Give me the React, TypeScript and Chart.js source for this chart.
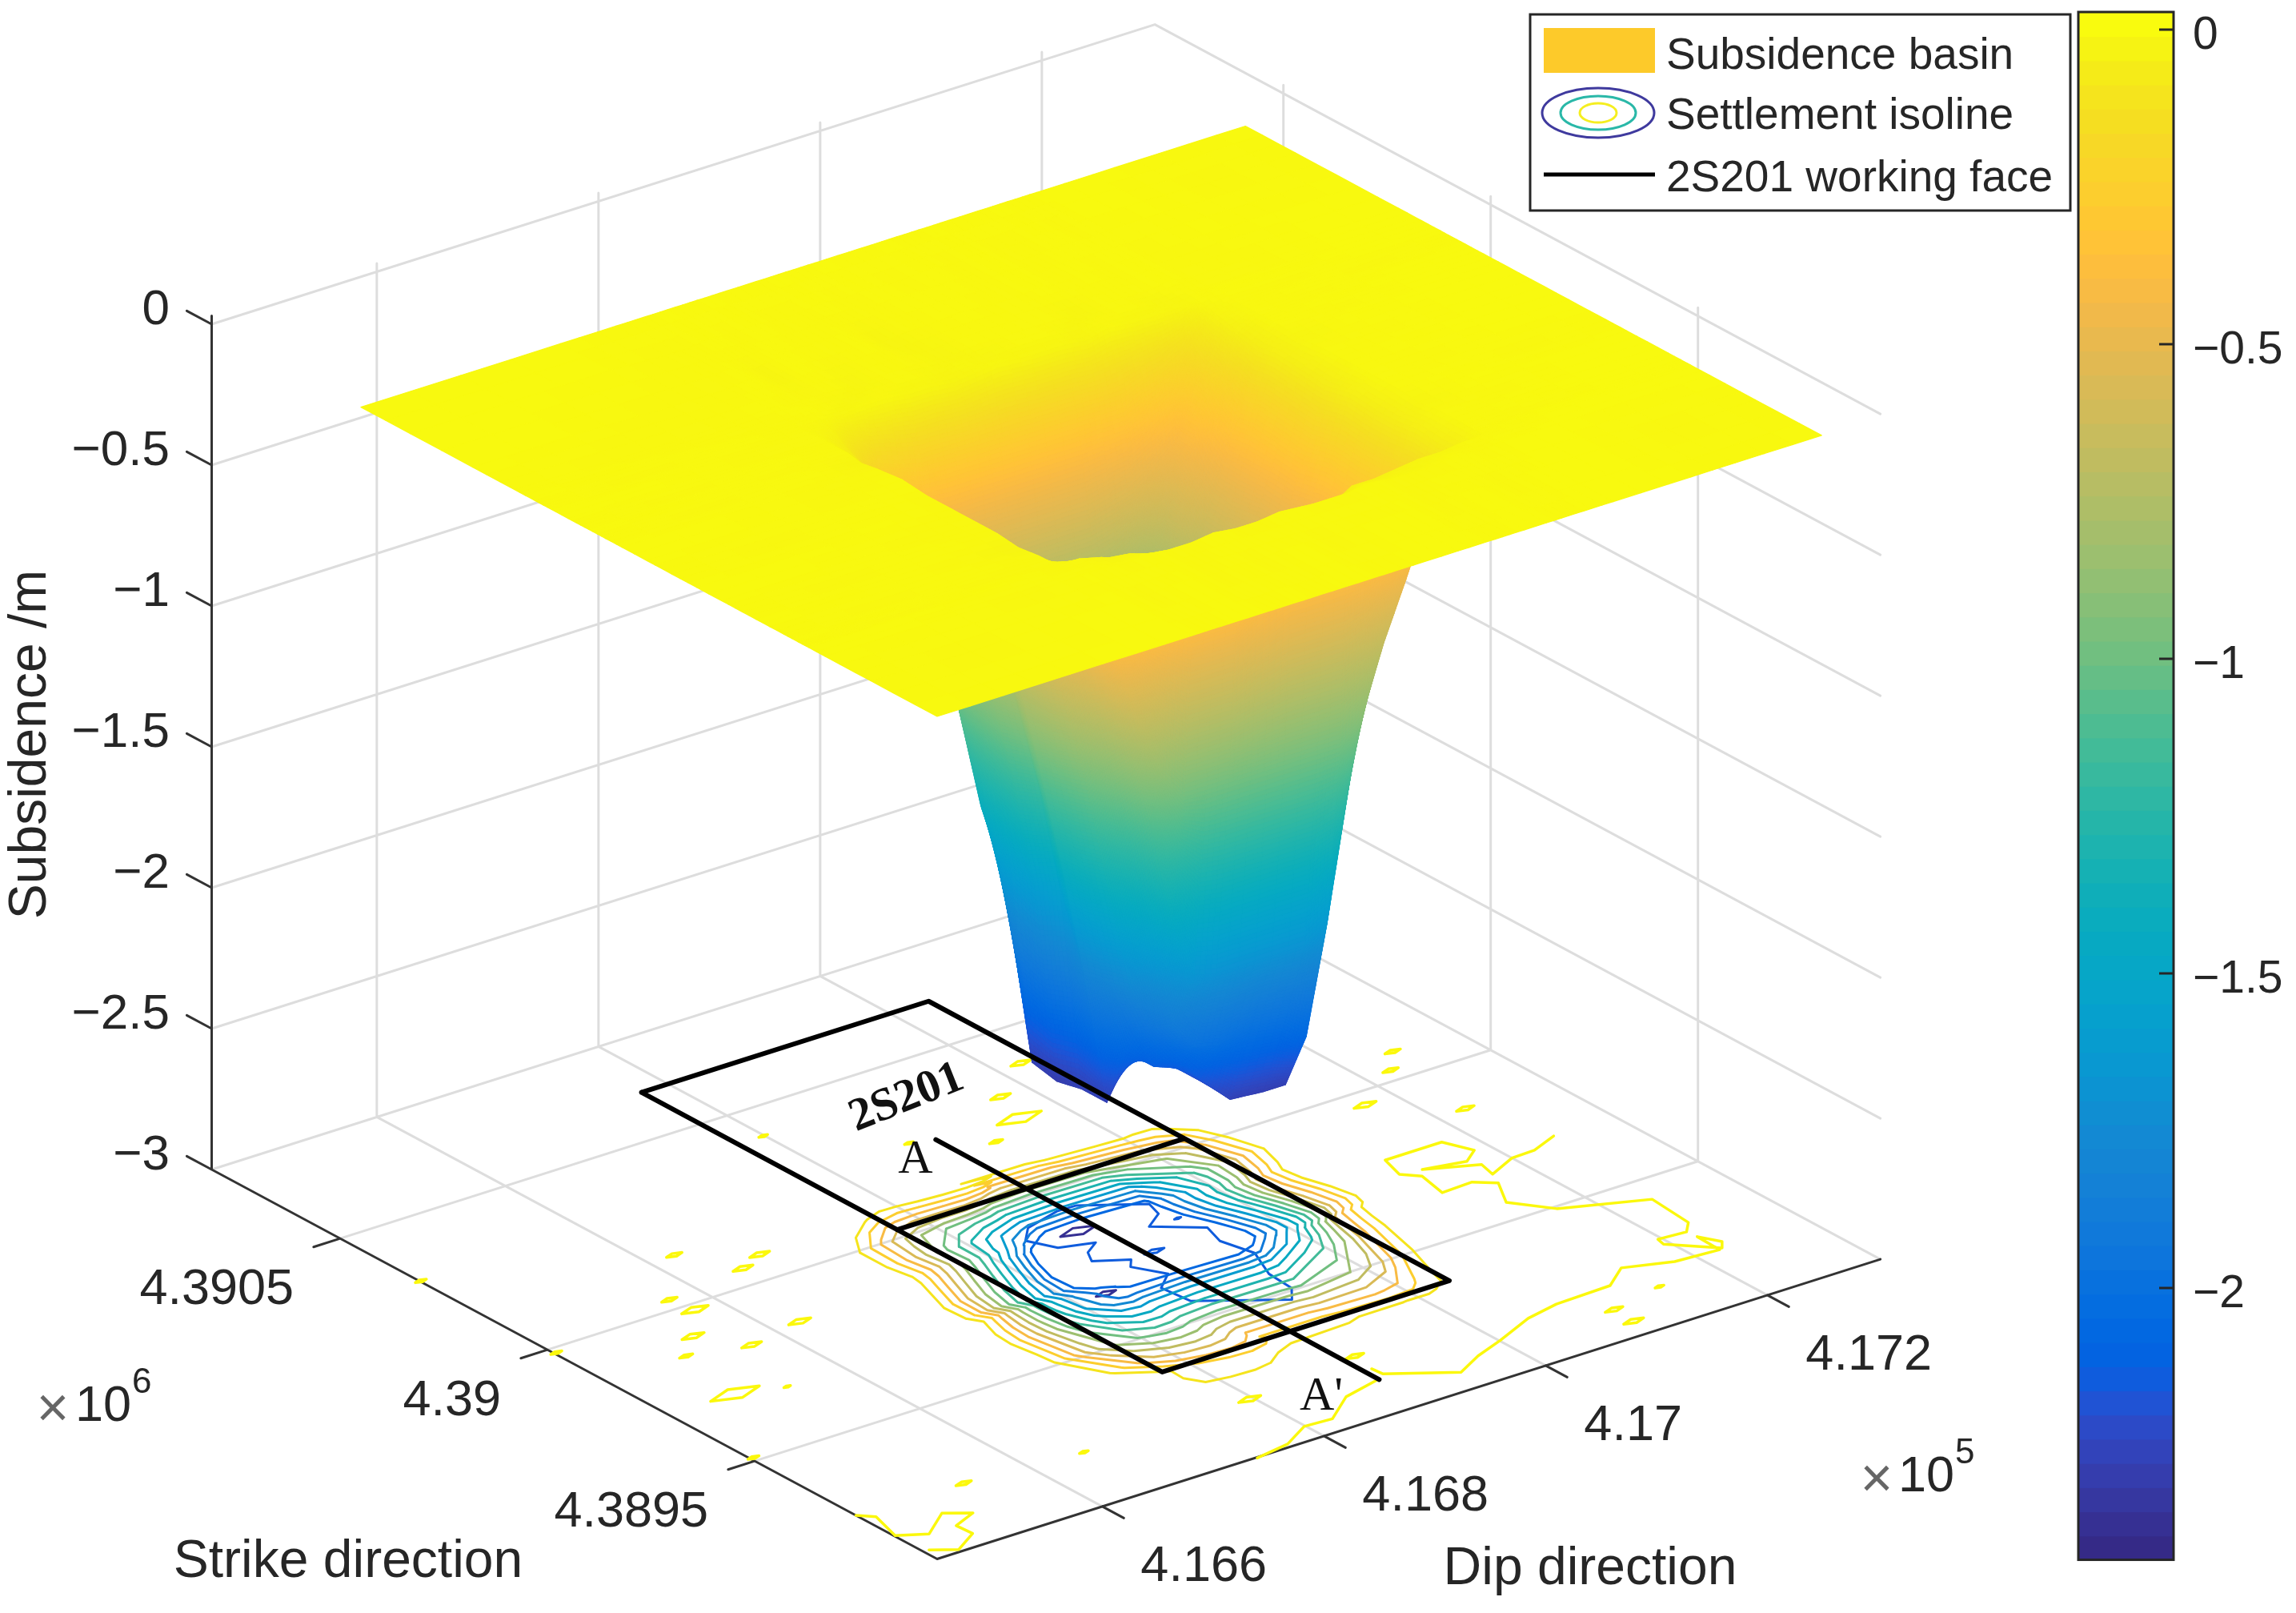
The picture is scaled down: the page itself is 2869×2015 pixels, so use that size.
import { useEffect, useRef } from 'react';
import Chart from 'chart.js/auto';

// grid of the measured surface, metres
const dipAxis = [416451, 416541, 416631, 416681, 416701, 416721, 416741, 416761, 416781, 416801, 416821, 416841, 416861, 416891, 416921, 416941, 416961, 416981, 417001, 417021, 417041, 417061, 417111, 417171, 417249];
const strikeAxis = [4389060, 4389220, 4389330, 4389370, 4389385, 4389400, 4389430, 4389480, 4389530, 4389580, 4389640, 4389700, 4389760, 4389820, 4389860, 4389890, 4389920, 4389950, 4389980, 4390010, 4390040, 4390080, 4390180, 4390330, 4390450];
// the isolines on the floor sit a little apart from the surface
const contourDipAxis = [416451, 416541, 416631, 416721, 416730, 416740, 416752, 416766, 416783, 416804, 416825, 416841, 416851, 416891, 416948, 416964, 417006, 417030, 417040, 417053, 417065, 417071, 417111, 417171, 417249];
const contourStrikeAxis = [4389060, 4389220, 4389300, 4389374, 4389424, 4389505, 4389599, 4389639, 4389673, 4389686, 4389710, 4389760, 4389810, 4389850, 4389875, 4389925, 4389990, 4390035, 4390070, 4390093, 4390100, 4390110, 4390180, 4390330, 4390450];
const isolineWestShift = [0, 0, 0, 25, 6, -6, -8, -5, 0, 2, -5, -7, 0, 6, 8, 3, 1, 12, 28, 36, 36, 0, 0, 0, 0];
const isolineEastShift = [0, 0, 0, -20, -28, -18, -8, -5, -2, 4, 7, 2, -5, -7, -2, 5, -2, -10, -24, -32, -32, 0, 0, 0, 0];
const isolineStrikeShift = [0, 0, 0, 0, 4, 6, 8, 4, -2, -6, -8, -4, 3, 8, 6, 0, -6, -8, -4, 3, 0, 0, 0, 0, 0];

const subsidence = [
  [-.01,-.01,-.01,-.01,-.01,-.01,-.01,-.01,-.01,-.01,-.01,-.01,-.01,-.01,-.01,-.01,-.01,-.01,-.01,-.01,-.01,-.01,-.01,-.01,-.01],
  [-.01,-.02,-.01,-.01,-.02,-.01,-.01,-.02,-.01,-.02,-.01,-.01,-.02,-.01,-.01,-.01,-.02,-.01,-.01,-.02,-.01,-.01,-.01,-.02,-.01],
  [-.01,-.01,-.02,-.01,-.01,-.02,-.01,-.02,-.02,-.01,-.02,-.02,-.01,-.02,-.02,-.01,-.02,-.02,-.02,-.01,-.02,-.01,-.01,-.01,-.01],
  [-.01,-.01,-.01,-.02,-.02,-.03,-.04,-.08,-.25,-.25,-.25,-.25,-.12,-.12,-.1,-.05,-.05,-.04,-.03,-.03,-.02,-.02,-.01,-.01,-.01],
  [-.01,-.02,-.01,-.02,-.02,-.04,-.25,-.4,-.45,-.5,-.5,-.5,-.45,-.4,-.4,-.4,-.4,-.38,-.32,-.22,-.06,-.02,-.01,-.01,-.01],
  [-.01,-.01,-.02,-.02,-.04,-.27,-.46,-.7,-.9,-1,-1,-1,-1,-1,-1,-1,-.92,-.68,-.48,-.27,-.07,-.02,-.02,-.01,-.01],
  [-.01,-.02,-.01,-.02,-.12,-.3,-.52,-.78,-1.08,-1.47,-1.68,-1.7,-1.7,-1.7,-1.7,-1.65,-1.18,-.74,-.54,-.3,-.07,-.02,-.01,-.01,-.01],
  [-.01,-.01,-.02,-.03,-.13,-.32,-.56,-.86,-1.2,-1.6,-1.9,-2,-2.02,-2,-2.02,-2.09,-1.28,-.76,-.54,-.3,-.06,-.02,-.02,-.01,-.01],
  [-.01,-.02,-.01,-.02,-.13,-.34,-.68,-1,-1.4,-1.78,-1.95,-2.05,-2.17,-2.29,-2.3,-2.3,-1.45,-.76,-.55,-.31,-.07,-.03,-.01,-.01,-.01],
  [-.01,-.01,-.02,-.02,-.13,-.36,-.7,-1.02,-1.42,-1.8,-2,-2.15,-2.18,-2.28,-2.3,-2.25,-1.38,-.75,-.55,-.31,-.07,-.02,-.01,-.02,-.01],
  [-.01,-.01,-.01,-.02,-.13,-.36,-.7,-1.04,-1.42,-1.82,-2.3,-2.15,-2.18,-2.25,-2.3,-2.2,-1.3,-.76,-.54,-.3,-.06,-.02,-.02,-.01,-.01],
  [-.01,-.02,-.01,-.02,-.12,-.31,-.55,-.83,-1.15,-1.55,-2.3,-2.2,-2.18,-2.2,-2.28,-2.15,-1.25,-.75,-.55,-.32,-.08,-.02,-.01,-.01,-.01],
  [-.01,-.01,-.02,-.01,-.11,-.31,-.56,-.84,-1.18,-1.6,-2.32,-2.25,-2.2,-2.22,-2.25,-2.1,-1.2,-.76,-.54,-.31,-.07,-.02,-.02,-.01,-.01],
  [-.01,-.01,-.02,-.02,-.12,-.3,-.54,-.82,-1.14,-1.55,-2.3,-2.3,-2.28,-2.25,-2.22,-2.05,-1.22,-.74,-.55,-.3,-.06,-.03,-.01,-.01,-.01],
  [-.01,-.02,-.01,-.03,-.12,-.31,-.53,-.8,-1.1,-1.5,-1.95,-2.2,-2.22,-2.2,-2.2,-2,-1.18,-.74,-.54,-.31,-.07,-.02,-.02,-.01,-.01],
  [-.01,-.01,-.02,-.02,-.11,-.29,-.5,-.76,-1.05,-1.42,-1.68,-1.7,-1.7,-1.7,-1.7,-1.65,-1.05,-.65,-.5,-.28,-.06,-.02,-.01,-.01,-.01],
  [-.01,-.02,-.01,-.02,-.09,-.24,-.42,-.66,-.9,-1.02,-1.05,-1.05,-1.05,-1.05,-1.05,-1.02,-.9,-.65,-.42,-.22,-.05,-.02,-.02,-.01,-.01],
  [-.01,-.01,-.02,-.02,-.07,-.18,-.34,-.5,-.58,-.6,-.6,-.6,-.6,-.6,-.6,-.58,-.56,-.5,-.42,-.2,-.04,-.02,-.01,-.02,-.01],
  [-.01,-.01,-.02,-.02,-.04,-.12,-.2,-.23,-.25,-.25,-.25,-.25,-.25,-.25,-.25,-.25,-.25,-.22,-.2,-.15,-.03,-.02,-.02,-.01,-.01],
  [-.01,-.02,-.01,-.02,-.02,-.03,-.02,-.02,-.03,-.03,-.04,-.03,-.02,-.03,-.03,-.04,-.02,-.03,-.03,-.03,-.02,-.01,-.01,-.01,-.01],
  [-.01,-.01,-.02,-.02,-.01,-.02,-.03,-.02,-.02,-.02,-.03,-.02,-.03,-.02,-.02,-.03,-.02,-.02,-.02,-.03,-.02,-.02,-.02,-.01,-.01],
  [-.01,-.02,-.02,-.01,-.02,-.02,-.02,-.03,-.02,-.02,-.02,-.03,-.02,-.02,-.02,-.02,-.03,-.02,-.02,-.02,-.01,-.02,-.02,-.01,-.01],
  [-.01,-.01,-.02,-.02,-.01,-.03,-.01,-.02,-.02,-.01,-.03,-.02,-.02,-.01,-.02,-.02,-.01,-.02,-.01,-.02,-.01,-.02,-.01,-.01,-.01],
  [-.01,-.01,-.01,-.02,-.02,-.01,-.02,-.01,-.02,-.02,-.01,-.02,-.01,-.02,-.01,-.02,-.01,-.02,-.02,-.01,-.02,-.01,-.01,-.02,-.01],
  [-.01,-.01,-.01,-.01,-.01,-.01,-.01,-.01,-.01,-.01,-.01,-.01,-.01,-.01,-.01,-.01,-.01,-.01,-.01,-.01,-.01,-.01,-.01,-.01,-.01],
];

const isolineLevels = [-.1, -.25, -.4, -.55, -.7, -.85, -1, -1.15, -1.3, -1.45, -1.6, -1.75, -1.9, -2.05];

// the wide inner isoline at about -2.2, [dip, strike]
const innerIsoline = [[416903,4389933],[416946,4389872],[416941,4389836],[416922,4389808],[416954,4389753],[416947,4389704],[416954,4389639],[416940,4389567],[416938,4389507],[416926,4389474],[416867,4389561],[416864,4389624],[416883,4389658],[416869,4389711],[416877,4389731],[416853,4389762],[416860,4389790],[416875,4389811],[416848,4389830],[416837,4389879],[416852,4389913],[416886,4389934],[416903,4389933]];
// deepest closed isolines: dip, strike, half length
const deepLoops = [[416877,4389859,16],[416827,4389658,9]];
const innerLoops = [[416947,4389806,3],[416899,4389734,9]];
// the long shallow isolines
const shallowLineEast = [[417247,4389701],[417221,4389678],[417200,4389676],[417172,4389648],[417176,4389685],[417137,4389724],[417171,4389707],[417187,4389732],[417177,4389784],[417126,4389784],[417119,4389731],[417130,4389706],[417124,4389641],[417152,4389644],[417166,4389618],[417150,4389556],[417172,4389493],[417236,4389434],[417232,4389336],[417221,4389311],[417197,4389316],[417195,4389297],[417224,4389234],[417231,4389252],[417222,4389288],[417221,4389231],[417183,4389238],[417146,4389268],[417121,4389228],[417071,4389224],[417040,4389209],[417001,4389172],[416972,4389148],[416945,4389117],[416899,4389183],[416898,4389207]];
const shallowLineSouth = [[416890,4389171],[416854,4389151],[416823,4389101],[416799,4389105],[416771,4389070],[416739,4389058]];
const shallowLineCorner = [[416451,4389256],[416461,4389234],[416452,4389164],[416473,4389138],[416502,4389185],[416520,4389158],[416497,4389137],[416498,4389100],[416473,4389067],[416456,4389093]];
// small closed isolines: dip, strike, half length
const shallowLoops = [[417022,4390385,9],[416975,4390308,9],[416963,4390231,20],[416925,4390185,6],[416874,4390259,4],[416799,4390410,4],[417245,4390084,7],[417224,4390033,7],[417173,4389958,10],[417226,4389858,8],[416797,4389231,10],[416902,4389258,8],[416624,4389854,10],[416623,4390154,7],[416672,4390079,9],[416648,4390055,9],[416573,4390032,7],[416577,4389981,12],[416548,4389908,10],[416572,4389831,9],[416523,4389858,6],[416511,4389708,22],[416548,4389681,3],[416452,4390308,5],[416453,4389984,5],[416454,4389511,5],[416546,4389250,7],[416647,4389230,4],[417098,4389157,8],[417097,4389107,9],[417148,4389181,4]];

const workingFaceDip = [416776, 417035];
const workingFaceStrike = [4389386, 4390642];
const stopLineStrike = 4390025;
const sectionAA = [[416893, 4390245], [416891, 4389170]];

const dipTicks = [416600, 416800, 417000, 417200];
const dipTickLabels = ['4.166', '4.168', '4.17', '4.172'];
const strikeTicks = [4390500, 4390000, 4389500];
const strikeTickLabels = ['4.3905', '4.39', '4.3895'];
const zTicks = [0, -0.5, -1, -1.5, -2, -2.5, -3];
const zTickLabels = ['0', '\u22120.5', '\u22121', '\u22121.5', '\u22122', '\u22122.5', '\u22123'];
const colorbarTicks = [0, -0.5, -1, -1.5, -2];
const colorbarTickLabels = ['0', '\u22120.5', '\u22121', '\u22121.5', '\u22122'];
const colorLimits = [-2.432, 0.028];

const dipLimits = [416451, 417302];
const strikeLimits = [4389060, 4390810];
const zTop = 0.03;

const parula = [[.2081,.1663,.5292],[.2116,.1898,.5777],[.2123,.2138,.627],[.2081,.2386,.6771],[.1959,.2645,.7279],[.1707,.2919,.7792],[.1253,.3242,.8303],[.0591,.3598,.8683],[.0117,.3875,.882],[.006,.4086,.8828],[.0165,.4266,.8786],[.0329,.443,.872],[.0498,.4586,.8641],[.0629,.4737,.8554],[.0723,.4887,.8467],[.0779,.504,.8384],[.0793,.52,.8312],[.0749,.5375,.8263],[.0641,.557,.824],[.0488,.5772,.8228],[.0343,.5966,.8199],[.0265,.6137,.8135],[.0239,.6287,.8038],[.0231,.6418,.7913],[.0228,.6535,.7768],[.0267,.6642,.7607],[.0384,.6743,.7436],[.059,.6838,.7254],[.0843,.6928,.7062],[.1133,.7015,.6859],[.1453,.7098,.6646],[.1801,.7177,.6424],[.2178,.725,.6193],[.2586,.7317,.5954],[.3022,.7376,.5712],[.3482,.7424,.5473],[.3953,.7459,.5244],[.442,.7481,.5033],[.4871,.7491,.484],[.53,.7491,.4661],[.5709,.7485,.4494],[.6099,.7473,.4337],[.6473,.7456,.4188],[.6834,.7435,.4044],[.7184,.7411,.3905],[.7525,.7384,.3768],[.7858,.7356,.3633],[.8185,.7327,.3498],[.8507,.7299,.336],[.8824,.7274,.3217],[.9139,.7258,.3063],[.945,.7261,.2886],[.9739,.7314,.2666],[.9938,.7455,.2403],[.999,.7653,.2164],[.9955,.7861,.1967],[.988,.8066,.1794],[.9789,.8271,.1633],[.9697,.8481,.1475],[.9626,.8705,.1309],[.9589,.8949,.1132],[.9598,.9218,.0948],[.9661,.9514,.0755],[.9763,.9831,.0538]];
const toRgb = (c: number[]) => `rgb(${Math.round(c[0] * 255)},${Math.round(c[1] * 255)},${Math.round(c[2] * 255)})`;
const bandColors = parula.map(toRgb);

const W = 2869;
const H = 2015;
const INK = '#262626';
const GRID = '#dddddd';
const SANS = '"Liberation Sans", Arial, sans-serif';
const SERIF = '"Liberation Serif", serif';

// fixed MATLAB view, orthographic
const project = (dip: number, strike: number, z: number) => ({
  x: 1171 + (dip - 416451) * 1.385 - (strike - 4389060) * 0.518,
  y: 1947.5 - (dip - 416451) * 0.44 - (strike - 4389060) * 0.278 - (z + 3) * 352,
});

const colorOf = (z: number) => {
  const t = (z - colorLimits[0]) / (colorLimits[1] - colorLimits[0]);
  return bandColors[Math.max(0, Math.min(63, Math.floor(t * 64)))];
};

// the surface has interpolated shading, the colorbar has the 64 bands
const shadeOf = (z: number) => {
  const t = Math.max(0, Math.min(1, (z - colorLimits[0]) / -colorLimits[0])) * 63;
  const i = Math.min(62, Math.floor(t));
  const f = t - i;
  return toRgb(parula[i].map((v, k) => v + (parula[i + 1][k] - v) * f));
};

const polyline = (pts: number[][], z: number) => pts.map((p) => project(p[0], p[1], z));
const GAP = { x: NaN, y: NaN };

const loopData = (loops: number[][], ratio: number) => {
  const out: any[] = [];
  loops.forEach(([d, s, h]) => {
    const w = h * ratio;
    out.push(...polyline([[d - h, s], [d, s + w], [d + h, s], [d, s - w], [d - h, s]], -3), GAP);
  });
  return out;
};

// contouring works on a lightly smoothed copy, the grid is too coarse for clean lines otherwise
const smoothedSubsidence = subsidence.map((row, r) => row.map((z, c) => {
  if (r === 0 || c === 0 || r === subsidence.length - 1 || c === row.length - 1) return z;
  return (2 * z + subsidence[r - 1][c] + subsidence[r + 1][c] + row[c - 1] + row[c + 1]) / 6;
}));

// marching squares over the surface grid, placed on the floor
const isolineSegments = (level: number) => {
  const out: any[] = [];
  const grid = smoothedSubsidence;
  const cut = (p: number[], q: number[], za: number, zb: number) => {
    const t = (level - za) / (zb - za);
    return project(p[0] + (q[0] - p[0]) * t, p[1] + (q[1] - p[1]) * t, -3);
  };
  const node = (r: number, c: number) => [
    contourDipAxis[c] + (c <= 12 ? isolineWestShift[r] : isolineEastShift[r]),
    contourStrikeAxis[r] + isolineStrikeShift[c],
  ];
  for (let r = 0; r < strikeAxis.length - 1; r++) {
    for (let c = 0; c < dipAxis.length - 1; c++) {
      const a = grid[r][c], b = grid[r][c + 1], d = grid[r + 1][c], e = grid[r + 1][c + 1];
      const na = node(r, c), nb = node(r, c + 1), nd = node(r + 1, c), ne = node(r + 1, c + 1);
      const hits: any[] = [];
      if (a > level !== b > level) hits.push(cut(na, nb, a, b));
      if (b > level !== e > level) hits.push(cut(nb, ne, b, e));
      if (d > level !== e > level) hits.push(cut(nd, ne, d, e));
      if (a > level !== d > level) hits.push(cut(na, nd, a, d));
      for (let i = 0; i + 1 < hits.length; i += 2) out.push(hits[i], hits[i + 1], GAP);
    }
  }
  return out;
};

const shallowData = () => {
  const out: any[] = [];
  [shallowLineEast, shallowLineSouth, shallowLineCorner].forEach((l) => out.push(...polyline(l, -3), GAP));
  out.push(...loopData(shallowLoops, 0.8));
  return out;
};

const gridData = () => {
  const out: any[] = [];
  const [d0, d1] = dipLimits;
  const [s0, s1] = strikeLimits;
  zTicks.forEach((z) => out.push(project(d0, s1, z), project(d1, s1, z), project(d1, s0, z), GAP));
  dipTicks.forEach((d) => out.push(project(d, s0, -3), project(d, s1, -3), project(d, s1, zTop), GAP));
  strikeTicks.forEach((s) => out.push(project(d0, s, -3), project(d1, s, -3), project(d1, s, zTop), GAP));
  return out;
};

const axisData = () => {
  const out: any[] = [];
  const [d0, d1] = dipLimits;
  const [s0, s1] = strikeLimits;
  out.push(project(d1, s0, -3), project(d0, s0, -3), project(d0, s1, -3), project(d0, s1, zTop), GAP);
  zTicks.forEach((z) => out.push(project(d0, s1, z), project(d0, s1 + 60, z), GAP));
  dipTicks.forEach((d) => out.push(project(d, s0, -3), project(d, s0 - 52, -3), GAP));
  strikeTicks.forEach((s) => out.push(project(d0, s, -3), project(d0 - 24, s, -3), GAP));
  return out;
};

const faceData = () => {
  const [d0, d1] = workingFaceDip;
  const [s0, s1] = workingFaceStrike;
  return [
    ...polyline([[d0, s1], [d1, s1], [d1, s0], [d0, s0], [d0, s1]], -3), GAP,
    ...polyline([[d0, stopLineStrike], [d1, stopLineStrike]], -3), GAP,
    ...polyline(sectionAA, -3),
  ];
};

const surfaceData = () => {
  const out: any[] = [];
  strikeAxis.forEach((s, r) => dipAxis.forEach((d, c) => out.push({ ...project(d, s, subsidence[r][c]), z: subsidence[r][c] })));
  return out;
};

const lineSet = (label: string, data: any[], color: string, width: number, order: number) => ({
  label, data, order, showLine: true, borderColor: color, borderWidth: width, pointRadius: 0, borderJoinStyle: 'round', borderCapStyle: 'round',
});

const drawSurface = (chart: any, index: number) => {
  const pts = chart.getDatasetMeta(index).data;
  const zs = chart.data.datasets[index].data;
  const cols = dipAxis.length;
  const ctx = chart.ctx;
  ctx.save();
  ctx.lineWidth = 1.2;
  ctx.lineJoin = 'round';
  for (let r = strikeAxis.length - 2; r >= 0; r--) {
    for (let c = cols - 2; c >= 0; c--) {
      const k = [r * cols + c, r * cols + c + 1, (r + 1) * cols + c + 1, (r + 1) * cols + c];
      const corner = k.map((i) => ({ x: pts[i].x, y: pts[i].y, z: zs[i].z }));
      const at = (u: number, v: number) => {
        const w = [(1 - u) * (1 - v), u * (1 - v), u * v, (1 - u) * v];
        return {
          x: w.reduce((t, q, i) => t + q * corner[i].x, 0),
          y: w.reduce((t, q, i) => t + q * corner[i].y, 0),
          z: w.reduce((t, q, i) => t + q * corner[i].z, 0),
        };
      };
      const du = Math.max(Math.abs(corner[1].z - corner[0].z), Math.abs(corner[2].z - corner[3].z));
      const dv = Math.max(Math.abs(corner[3].z - corner[0].z), Math.abs(corner[2].z - corner[1].z));
      const nu = Math.min(40, Math.ceil(du * 60) + 2);
      const nv = Math.min(40, Math.ceil(dv * 60) + 2);
      for (let j = nv - 1; j >= 0; j--) {
        for (let i = nu - 1; i >= 0; i--) {
          const a = at(i / nu, j / nv), b = at((i + 1) / nu, j / nv);
          const e = at((i + 1) / nu, (j + 1) / nv), f = at(i / nu, (j + 1) / nv);
          const color = shadeOf((a.z + b.z + e.z + f.z) / 4);
          ctx.fillStyle = color;
          ctx.strokeStyle = color;
          ctx.beginPath();
          ctx.moveTo(a.x, a.y);
          ctx.lineTo(b.x, b.y);
          ctx.lineTo(e.x, e.y);
          ctx.lineTo(f.x, f.y);
          ctx.closePath();
          ctx.fill();
          ctx.stroke();
        }
      }
    }
  }
  ctx.restore();
};

const text = (ctx: any, s: string, x: number, y: number, size: number, align = 'left', family = SANS, color = INK, weight = '') => {
  ctx.font = `${weight} ${size}px ${family}`;
  ctx.textAlign = align;
  ctx.textBaseline = 'middle';
  ctx.fillStyle = color;
  ctx.fillText(s, x, y);
};

const decorations = {
  id: 'decorations',
  beforeDatasetDraw(chart: any, args: any) {
    if (chart.data.datasets[args.index].label === 'Subsidence basin') drawSurface(chart, args.index);
  },
  afterDatasetsDraw(chart: any) {
    const ctx = chart.ctx;
    const sx = chart.scales.x;
    const cb = chart.scales.colorbar;
    ctx.save();

    // axis text
    zTicks.forEach((z, i) => text(ctx, zTickLabels[i], 212, project(dipLimits[0], strikeLimits[1], z).y - 17, 62, 'right'));
    strikeTicks.forEach((s, i) => {
      const p = project(dipLimits[0], s, -3);
      text(ctx, strikeTickLabels[i], p.x - 58, p.y + 64, 63, 'right');
    });
    dipTicks.forEach((d, i) => {
      const p = project(d, strikeLimits[0], -3);
      text(ctx, dipTickLabels[i], p.x + 48, p.y + 76, 63);
    });
    text(ctx, '\u00d7', 66, 1763, 70, 'center', SANS, '#666');
    text(ctx, '10', 94, 1758, 63);
    text(ctx, '6', 165, 1728, 44);
    text(ctx, '\u00d7', 2345, 1851, 70, 'center', SANS, '#666');
    text(ctx, '10', 2372, 1846, 63);
    text(ctx, '5', 2443, 1816, 44);
    text(ctx, 'Strike direction', 435, 1952, 66, 'center');
    text(ctx, 'Dip direction', 1987, 1961, 66, 'center');
    ctx.save();
    ctx.translate(39, 930);
    ctx.rotate(-Math.PI / 2);
    text(ctx, 'Subsidence /m', 0, 0, 66, 'center');
    ctx.restore();

    // notes on the floor
    ctx.save();
    ctx.translate(1133, 1372);
    ctx.rotate(-0.38);
    text(ctx, '2S201', 0, 0, 58, 'center', SERIF, '#111', 'bold');
    ctx.restore();
    text(ctx, 'A', 1144, 1449, 60, 'center', SERIF, '#111');
    text(ctx, "A'", 1651, 1745, 60, 'center', SERIF, '#111');

    // colorbar
    const left = sx.getPixelForValue(2597);
    const right = sx.getPixelForValue(2716);
    const span = colorLimits[1] - colorLimits[0];
    bandColors.forEach((color, i) => {
      const lo = cb.getPixelForValue(colorLimits[0] + (span * i) / 64);
      const hi = cb.getPixelForValue(colorLimits[0] + (span * (i + 1)) / 64);
      ctx.fillStyle = color;
      ctx.fillRect(left, hi, right - left, lo - hi + 1);
    });
    const top = cb.getPixelForValue(colorLimits[1]);
    const bottom = cb.getPixelForValue(colorLimits[0]);
    ctx.strokeStyle = INK;
    ctx.lineWidth = 3;
    ctx.strokeRect(left, top, right - left, bottom - top);
    colorbarTicks.forEach((t, i) => {
      const y = cb.getPixelForValue(t);
      ctx.beginPath();
      ctx.moveTo(right - 18, y);
      ctx.lineTo(right, y);
      ctx.stroke();
      text(ctx, colorbarTickLabels[i], 2740, y + 8, 57);
    });

    // legend
    ctx.fillStyle = '#fff';
    ctx.fillRect(1912, 18, 675, 245);
    ctx.strokeStyle = INK;
    ctx.lineWidth = 3;
    ctx.strokeRect(1912, 18, 675, 245);
    ctx.fillStyle = '#fdca2a';
    ctx.fillRect(1929, 35, 139, 56);
    [[70, 31, '#3f3a9e'], [47, 21, '#2ab8a8'], [23, 12, '#f5ee20']].forEach(([rx, ry, color]: any) => {
      ctx.strokeStyle = color;
      ctx.lineWidth = 3;
      ctx.beginPath();
      ctx.ellipse(1997, 141, rx, ry, 0, 0, Math.PI * 2);
      ctx.stroke();
    });
    ctx.strokeStyle = '#000';
    ctx.lineWidth = 5;
    ctx.beginPath();
    ctx.moveTo(1929, 218);
    ctx.lineTo(2068, 218);
    ctx.stroke();
    text(ctx, 'Subsidence basin', 2082, 71, 55);
    text(ctx, 'Settlement isoline', 2082, 146, 55);
    text(ctx, '2S201 working face', 2082, 224, 55);
    ctx.restore();
  },
};

export default function App() {
  const canvasRef = useRef<HTMLCanvasElement>(null);

  useEffect(() => {
    const chart = new Chart(canvasRef.current, {
      type: 'scatter',
      data: {
        datasets: [
          lineSet('2S201 working face', faceData(), '#000', 6, 1),
          { label: 'Subsidence basin', data: surfaceData(), order: 2, showLine: false, pointRadius: 0 },
          ...isolineLevels.map((level) => lineSet(`isoline ${level}`, isolineSegments(level), colorOf(level), 3, 3)),
          lineSet('inner isoline', [...polyline(innerIsoline, -3), GAP, ...loopData(innerLoops, 0.7)], colorOf(-2.15), 3, 3),
          lineSet('deep isolines', loopData(deepLoops, 0.8), colorOf(-2.38), 3, 3),
          lineSet('shallow isolines', shallowData(), '#fbf80c', 3.5, 3),
          lineSet('axes', axisData(), '#333333', 3, 4),
          lineSet('grid', gridData(), GRID, 3, 5),
        ],
      },
      options: {
        animation: false,
        responsive: false,
        devicePixelRatio: 1,
        events: [],
        layout: { padding: 0 },
        plugins: { legend: { display: false }, tooltip: { enabled: false } },
        scales: {
          x: { type: 'linear', display: false, min: 0, max: W },
          y: { type: 'linear', display: false, min: 0, max: H, reverse: true },
          // colorbar scale, stretched so that 0 lands at pixel 37 and -1 at 823
          colorbar: { type: 'linear', axis: 'y', display: false, min: -(H - 37) / 786, max: 37 / 786 },
        },
      },
      plugins: [decorations],
    } as any);
    return () => chart.destroy();
  }, []);

  return (
    <div style={{ position: 'absolute', left: 0, top: 0 }}>
      <canvas ref={canvasRef} width={W} height={H} style={{ display: 'block' }} />
    </div>
  );
}
